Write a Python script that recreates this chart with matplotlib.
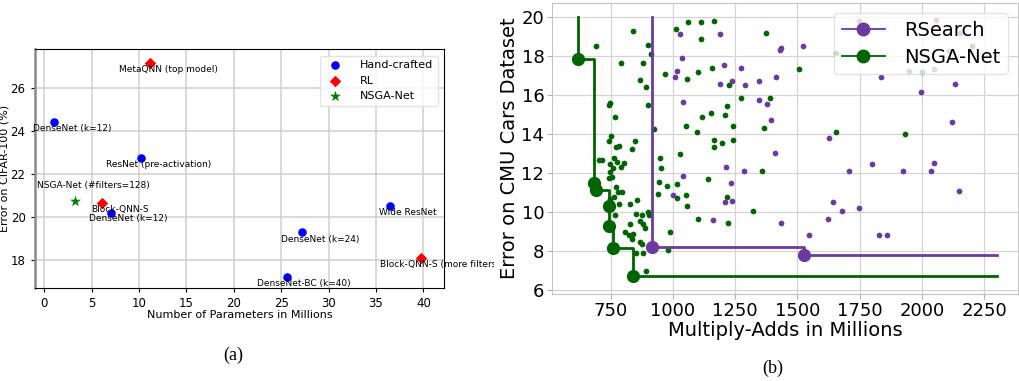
import matplotlib
matplotlib.use('Agg')
import matplotlib.pyplot as plt
from matplotlib.lines import Line2D
from matplotlib.transforms import Bbox


# ---- (a) CIFAR-100 error vs. parameters ----
cifar_names = ['DenseNet (k=12)', 'MetaQNN (top model)', 'ResNet (pre-activation)',
               'NSGA-Net (#filters=128)', 'Block-QNN-S', 'DenseNet (k=12)', 'Wide ResNet',
               'DenseNet (k=24)', 'Block-QNN-S (more filters)', 'DenseNet-BC (k=40)']
cifar_params = [1.0, 11.2, 10.2, 3.3, 6.1, 7.0, 36.5, 27.2, 39.7, 25.6]
cifar_error = [24.44, 27.17, 22.73, 20.75, 20.65, 20.19, 20.51, 19.29, 18.08, 17.19]
cifar_group = ['Hand-crafted', 'RL', 'Hand-crafted', 'NSGA-Net', 'RL', 'Hand-crafted',
               'Hand-crafted', 'Hand-crafted', 'RL', 'Hand-crafted']
groups = ['Hand-crafted', 'RL', 'NSGA-Net']

# where each annotation sits (data coords, left/center)
label_pos = [(-1.13, 24.13), (7.88, 26.86), (6.51, 22.43), (-0.74, 21.48), (4.99, 20.36),
             (4.78, 19.91), (35.34, 20.21), (24.97, 18.94), (35.37, 17.76), (22.5, 16.89)]

# ---- (b) CMU Cars error vs. multiply-adds ----
nsga_madds = [690, 842, 902, 913, 791, 881, 870, 891, 748, 744, 899, 767, 925, 1059, 1112, 1166,
              1013, 1113, 969, 1057, 1102, 1157, 1116, 1154, 1051, 1097, 1164, 1166, 750, 743,
              770, 783, 850, 836, 703, 717, 762, 775, 790, 804, 760, 747, 746, 756, 744, 771,
              779, 794, 763, 748, 782, 827, 858, 768, 854, 878, 867, 881, 890, 901, 905, 830,
              806, 825, 839, 835, 867, 878, 854, 881, 987, 979, 891, 947, 954, 1030, 945, 978,
              1017, 942, 1017, 1053, 1057, 1101, 1141, 1372, 1656, 1507, 1224, 1272, 1391, 1219,
              1209, 1240, 1367, 1656, 1197, 1240, 1359, 1219, 1320, 1221, 2200, 1998, 1930]
nsga_err = [18.55, 19.28, 18.6, 18.12, 17.68, 17.68, 16.77, 16.43, 15.6, 15.5, 15.5, 14.9, 14.26,
            19.78, 19.78, 19.83, 19.42, 18.89, 17.08, 16.82, 17.2, 17.4, 14.9, 15.11, 14.43, 14.09,
            13.71, 13.37, 13.92, 13.63, 13.37, 13.42, 13.66, 13.25, 12.68, 12.68, 12.8, 12.56,
            12.3, 12.51, 12.25, 12.48, 12.08, 11.83, 11.74, 11.31, 11.06, 11.06, 10.8, 10.7,
            10.44, 10.44, 10.61, 9.86, 9.91, 9.83, 9.55, 9.4, 9.21, 10.03, 9.83, 9.38, 8.97,
            8.83, 8.89, 8.6, 8.46, 8.37, 7.88, 7.9, 8.97, 8.05, 6.99, 12.8, 12.29, 12.99, 11.54,
            11.36, 11.47, 10.95, 10.72, 10.89, 10.34, 9.66, 11.71, 19.18, 18.19, 17.35, 16.53,
            15.85, 15.86, 15.47, 15.01, 14.41, 14.34, 14.12, 13.57, 13.69, 12.13, 10.8, 10.05,
            9.45, 18.53, 17.21, 14.02]
rs_madds = [1027, 1035, 1015, 1009, 1042, 1188, 1041, 1000, 1160, 1188, 1429, 1435, 1522, 1204,
            1273, 1412, 1237, 1289, 1345, 1345, 1376, 1392, 1627, 1408, 1215, 1284, 1232, 1208,
            1237, 1436, 1707, 1642, 1746, 1678, 1622, 1547, 1834, 1996, 2131, 2122, 2056, 2153,
            2109, 2048, 1949, 1749, 1799, 1924, 2034, 2048, 2148, 1829, 1860]
rs_err = [19.15, 17.9, 17.23, 16.96, 15.68, 16.6, 11.88, 10.87, 9.6, 19.15, 18.33, 18.43, 18.53,
          17.56, 17.39, 16.92, 16.74, 16.53, 16.75, 15.78, 15.54, 14.72, 13.83, 13.02, 12.32,
          12.1, 11.52, 10.51, 10.58, 9.45, 12.13, 10.51, 10.22, 10.08, 9.66, 8.85, 16.92, 16.17,
          16.58, 14.65, 19.86, 19.21, 18.29, 17.37, 17.25, 19.81, 12.46, 12.13, 12.13, 12.53,
          11.11, 8.83, 8.83]

nsga_front_madds = [618, 684, 692, 743, 745, 760, 840]
nsga_front_err = [17.85, 11.5, 11.14, 10.3, 9.28, 8.15, 6.73]
rs_front_madds = [915, 1525]
rs_front_err = [8.2, 7.79]
front_top = 20.0
front_end = 2300

purple = '#6b3a9e'
green = '#006400'

fig = plt.figure(figsize=(10.19, 3.81), dpi=100)

# ---------------- panel (a) ----------------
ax1 = fig.add_axes([0.034, 0.245, 0.402, 0.6265])
styles = {'Hand-crafted': ('blue', 'o', 38), 'RL': ('red', 'D', 34), 'NSGA-Net': ('green', '*', 70)}
for g in groups:
    xs = [p for p, gg in zip(cifar_params, cifar_group) if gg == g]
    ys = [e for e, gg in zip(cifar_error, cifar_group) if gg == g]
    c, m, s = styles[g]
    ax1.scatter(xs, ys, c=c, marker=m, s=s, label=g, zorder=3, linewidths=0)

clip = Bbox.from_extents(0, 0, 494, 381)
for name, (tx, ty) in zip(cifar_names, label_pos):
    t = ax1.text(tx, ty, name, fontsize=6.5, ha='left', va='center', zorder=4)
    t.set_clip_on(True)
    t.set_clip_box(clip)

ax1.set_xlim(-1, 42.2)
ax1.set_ylim(16.69, 27.84)
ax1.set_xticks(range(0, 41, 5))
ax1.set_yticks([18, 20, 22, 24, 26])
ax1.grid(True, color='#cfcfcf', lw=1.1)
ax1.set_axisbelow(True)
ax1.tick_params(labelsize=8.5, length=3)
ax1.set_xlabel('Number of Parameters in Millions', fontsize=8, labelpad=0)
ax1.set_ylabel('Error on CIFAR-100 (%)', fontsize=8, labelpad=1)
ax1.spines['left'].set_color('#8a8a8a')
ax1.spines['left'].set_linewidth(1.8)
ax1.legend(loc='upper right', fontsize=8, scatterpoints=1, framealpha=0.8,
           edgecolor='#dddddd', borderaxespad=0.6, handletextpad=1.2)

# ---------------- panel (b) ----------------
ax2 = fig.add_axes([0.5417, 0.2283, 0.4573, 0.763])
ax2.scatter(nsga_madds, nsga_err, s=17, c=green, linewidths=0, zorder=3)
ax2.scatter(rs_madds, rs_err, s=17, c=purple, linewidths=0, zorder=3)

for fx, fy, c in [(nsga_front_madds, nsga_front_err, green), (rs_front_madds, rs_front_err, purple)]:
    lx = [fx[0]] + fx + [front_end]
    ly = [front_top] + fy + [fy[-1]]
    ax2.plot(lx, ly, drawstyle='steps-post', color=c, lw=2, zorder=4)
    ax2.plot(fx, fy, 'o', color=c, ms=8.5, zorder=5)

handles = [Line2D([], [], color=purple, marker='o', ms=9, lw=1.3),
           Line2D([], [], color=green, marker='o', ms=9, lw=1.3)]
ax2.legend(handles, ['RSearch', 'NSGA-Net'], loc='upper right', fontsize=14, framealpha=0.8,
           edgecolor='#dddddd', borderaxespad=0.5, handlelength=2.2, handletextpad=1.0,
           labelspacing=0.4)

ax2.set_xlim(515, 2385)
ax2.set_ylim(5.8, 20.72)
ax2.set_xticks(range(750, 2251, 250))
ax2.set_yticks(range(6, 21, 2))
ax2.grid(True, color='#d4d4d4', lw=0.9)
ax2.set_axisbelow(True)
for sp in ax2.spines.values():
    sp.set_color('#c4c4c4')
ax2.tick_params(labelsize=13, color='#b0b0b0', length=3.5, pad=2)
ax2.set_xlabel('Multiply-Adds in Millions', fontsize=14, labelpad=1)
ax2.set_ylabel('Error on CMU Cars Dataset', fontsize=14, labelpad=2)

# captions
fig.text(233 / 1019, 1 - 355 / 381, '(a)', fontsize=13, family='Liberation Serif', ha='center', va='center')
fig.text(773 / 1019, 1 - 368 / 381, '(b)', fontsize=13, family='Liberation Serif', ha='center', va='center')

fig.savefig('out.png', dpi=100)
